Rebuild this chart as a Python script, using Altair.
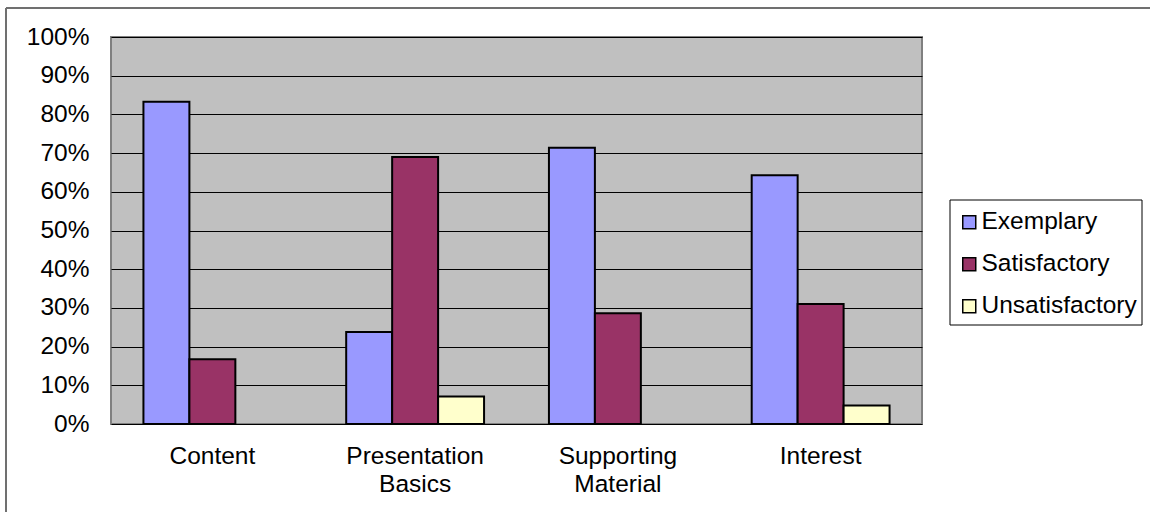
import altair as alt
import pandas as pd

categories = ["Content", "Presentation Basics", "Supporting Material", "Interest"]
series = ["Exemplary", "Satisfactory", "Unsatisfactory"]
exemplary = [0.833, 0.238, 0.714, 0.643]
satisfactory = [0.167, 0.690, 0.286, 0.310]
unsatisfactory = [0.0, 0.071, 0.0, 0.048]
colors = ["#9999FF", "#993366", "#FFFFCC"]
y_ticks = [0, 0.1, 0.2, 0.3, 0.4, 0.5, 0.6, 0.7, 0.8, 0.9, 1.0]

rows = []
for i, c in enumerate(categories):
    for s, vals in zip(series, [exemplary, satisfactory, unsatisfactory]):
        rows.append({"category": c, "series": s, "value": vals[i]})
df = pd.DataFrame(rows)

FONT = "Liberation Sans"
FS = 24.5
W, H = 811, 387
LEFT, TOP = 111, 37

bars = alt.Chart(df).transform_filter("datum.value > 0").mark_bar(stroke="black", strokeWidth=2).encode(
    x=alt.X("category:N", sort=categories, title=None,
            scale=alt.Scale(domain=categories, paddingInner=0.32, paddingOuter=0.16),
            axis=alt.Axis(labelAngle=0, ticks=False, domain=False,
                          labelFont=FONT, labelFontSize=FS, labelColor="black",
                          labelPadding=20, labelLineHeight=28, labelBaseline="top",
                          labelExpr="split(datum.label, ' ')")),
    xOffset=alt.XOffset("series:N", sort=series,
                        scale=alt.Scale(domain=series, paddingInner=0, paddingOuter=0)),
    y=alt.Y("value:Q", title=None,
            scale=alt.Scale(domain=[0, 1], nice=False),
            axis=alt.Axis(values=y_ticks, format=".0%", ticks=False, domain=False,
                          grid=True, gridColor="#000000", gridWidth=1,
                          labelFont=FONT, labelFontSize=FS, labelColor="black",
                          labelPadding=22)),
    color=alt.Color("series:N", sort=series,
                    scale=alt.Scale(domain=series, range=colors),
                    legend=alt.Legend(title=None, orient="none",
                                      legendX=846, legendY=173,
                                      symbolType="square", symbolSize=169,
                                      symbolStrokeColor="black", symbolStrokeWidth=1.5,
                                      symbolOffset=0,
                                      labelFont=FONT, labelFontSize=FS, labelColor="black",
                                      labelOffset=0, rowPadding=17,
                                      padding=0)),
)

legend_box = alt.Chart(pd.DataFrame({"a": [0]})).mark_rect(
    fill="white", stroke="black", strokeWidth=1, clip=False
).encode(
    x=alt.value(950 - LEFT), x2=alt.value(1142 - LEFT),
    y=alt.value(200 - TOP), y2=alt.value(325 - TOP),
)

border_top = alt.Chart(pd.DataFrame({"a": [0]})).mark_rule(color="#707070", strokeWidth=2, clip=False).encode(
    x=alt.value(6 - LEFT), x2=alt.value(1150 - LEFT), y=alt.value(8 - TOP)
)
border_left = alt.Chart(pd.DataFrame({"a": [0]})).mark_rule(color="#707070", strokeWidth=2, clip=False).encode(
    x=alt.value(6 - LEFT), y=alt.value(8 - TOP), y2=alt.value(512 - TOP)
)

chart = alt.layer(border_top, border_left, legend_box, bars).properties(
    width=W, height=H,
    padding={"left": LEFT, "top": TOP, "right": 1150 - LEFT - W, "bottom": 512 - TOP - H},
    autosize=alt.AutoSizeParams(type="none"),
    background="white",
).configure_view(
    fill="#C0C0C0", stroke="#808080", strokeWidth=2
)

chart.save("out.html", embed_options={"renderer": "svg", "actions": False})
